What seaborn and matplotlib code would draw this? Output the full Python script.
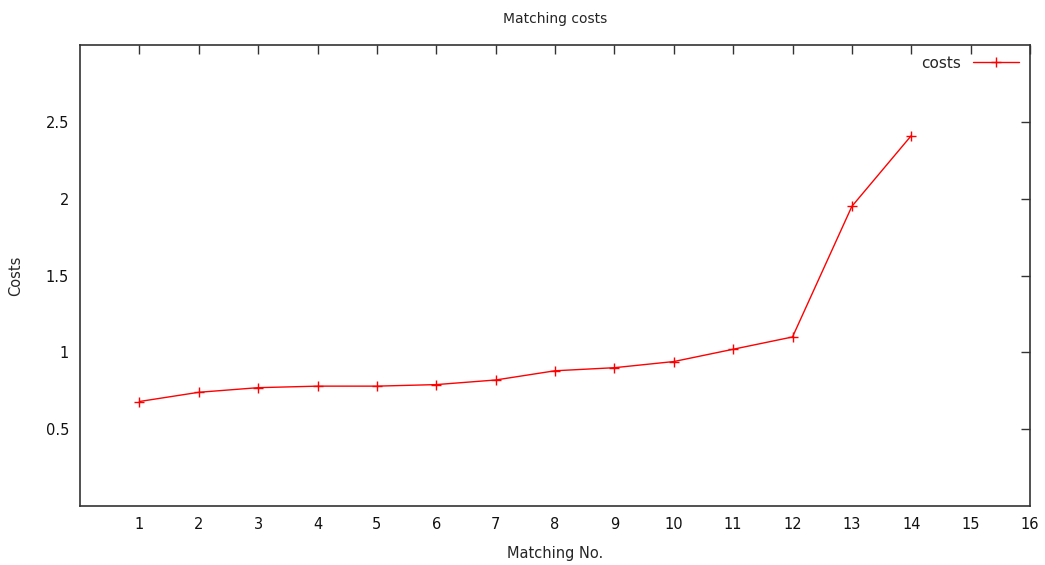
import matplotlib
matplotlib.use("Agg")
import matplotlib.pyplot as plt
import seaborn as sns
import pandas as pd

# Matching number and its cost
matching_no = [1, 2, 3, 4, 5, 6, 7, 8, 9, 10, 11, 12, 13, 14]
costs = [0.68, 0.74, 0.77, 0.78, 0.78, 0.79, 0.82, 0.88, 0.90, 0.94, 1.02, 1.10, 1.95, 2.41]
x_ticks = list(range(1, 17))
y_ticks = [0.5, 1.0, 1.5, 2.0, 2.5]
y_tick_labels = ["0.5", "1", "1.5", "2", "2.5"]

sns.set_style("white")
plt.rcParams["font.family"] = ["DejaVu Sans"]
plt.rcParams["font.size"] = 10

df = pd.DataFrame({"Matching No.": matching_no, "Costs": costs})

fig = plt.figure(figsize=(10.45, 5.65), dpi=100)
ax = fig.add_axes([80 / 1045, 1 - 506 / 565, 950 / 1045, 461 / 565])

red = "#ff0000"
sns.lineplot(data=df, x="Matching No.", y="Costs", ax=ax, color=red,
             marker="+", markersize=7, markeredgewidth=1.0,
             markeredgecolor=red, markerfacecolor=red, linewidth=1.0,
             label="costs")

ax.set_xlim(0, 16)
ax.set_ylim(0, 3)
ax.set_xticks(x_ticks)
ax.set_yticks(y_ticks)
ax.set_yticklabels(y_tick_labels)
ax.tick_params(direction="in", length=6.5, width=1, top=True, right=True,
               labelsize=10.5, colors="#333333", labelcolor="#111111", pad=8)
for s in ax.spines.values():
    s.set_color("#333333")
    s.set_linewidth(1.2)

ax.set_title("Matching costs", fontsize=10, pad=16)
ax.set_xlabel("Matching No.", fontsize=10.5, labelpad=10)
ax.set_ylabel("Costs", fontsize=10.5, labelpad=16)

leg = ax.legend(loc="upper right", frameon=False, markerfirst=False,
                fontsize=11, handlelength=3, borderaxespad=0.3)

fig.savefig("out.png", dpi=100)
